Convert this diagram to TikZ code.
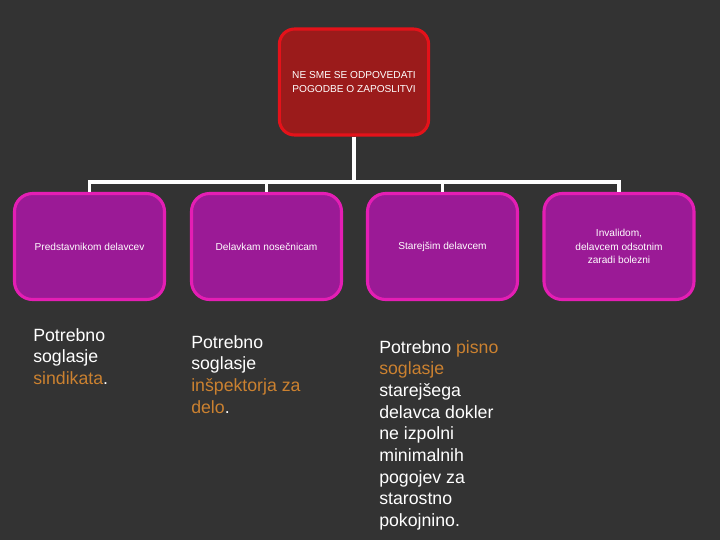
\documentclass[tikz,border=0pt]{standalone}
\usepackage{fontspec}
\setmainfont{Liberation Sans}
\usetikzlibrary{positioning,calc}
\definecolor{bgdark}{HTML}{333333}
\definecolor{topfill}{HTML}{9B1B1B}
\definecolor{topline}{HTML}{E4121A}
\definecolor{subfill}{HTML}{9B1A96}
\definecolor{subline}{HTML}{E41EB4}
\definecolor{hilite}{HTML}{CB8130}

\begin{document}
\begin{tikzpicture}[
  font=\fontsize{7.2}{9.4}\selectfont,
  topbox/.style={draw=topline,fill=topfill,line width=2.2pt,rounded corners=0.38cm,
    minimum width=3.73cm,minimum height=2.65cm,text=white,align=center,inner sep=2pt},
  subbox/.style={draw=subline,fill=subfill,line width=2.2pt,rounded corners=0.45cm,
    minimum width=3.75cm,minimum height=2.65cm,text=white,align=center,inner sep=2pt},
  conn/.style={draw=white,line width=2.8pt},
  note/.style={anchor=north west,align=left,inner sep=0pt,text=white,
    font=\fontsize{12.6}{15.4}\selectfont}]
\fill[bgdark] (0,0) rectangle (18,-13.5);
\useasboundingbox (0,0) rectangle (18,-13.5);
% connectors first, boxes on top
\coordinate (bus) at (8.85,-4.55);
\node[topbox] (top) at (8.85,-2.05) {NE SME SE ODPOVEDATI\\POGODBE O ZAPOSLITVI};
\node[subbox] (rep) at (2.2375,-6.1625) {Predstavnikom delavcev};
\node[subbox] (preg) at (6.6625,-6.1625) {Delavkam nosečnicam};
\node[subbox] (old) at (11.0625,-6.1625) {Starejšim delavcem};
\node[subbox] (sick) at (15.475,-6.1625) {Invalidom,\\delavcem odsotnim\\zaradi bolezni};
\draw[conn] (top.south) -- (bus);
\draw[conn] (rep.north) |- (bus) -| (sick.north);
\draw[conn] (preg.north) -- (preg.north |- bus);
\draw[conn] (old.north) -- (old.north |- bus);
% notes under the boxes
\node[note] (repnote) at (0.825,-8.2) {Potrebno\\soglasje\\\textcolor{hilite}{sindikata}.};
\node[note] (pregnote) at (4.775,-8.375) {Potrebno\\soglasje\\\textcolor{hilite}{inšpektorja za}\\\textcolor{hilite}{delo}.};
\node[note] (oldnote) at (9.475,-8.5) {Potrebno \textcolor{hilite}{pisno}\\\textcolor{hilite}{soglasje}\\starejšega\\delavca dokler\\ne izpolni\\minimalnih\\pogojev za\\starostno\\pokojnino.};
\end{tikzpicture}
\end{document}
